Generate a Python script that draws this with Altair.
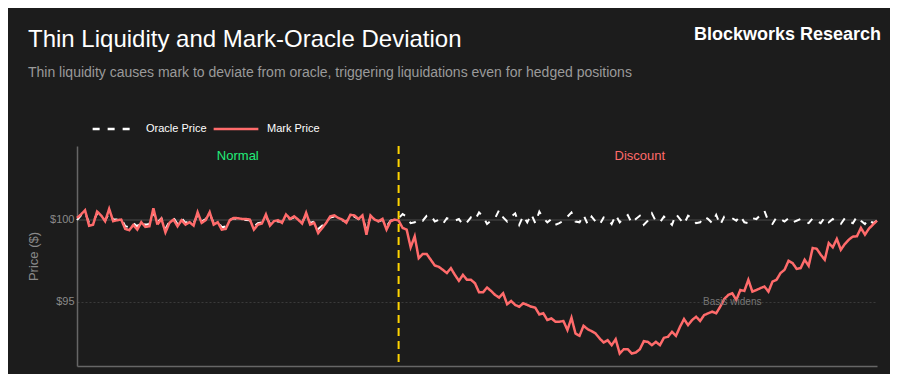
import altair as alt
import pandas as pd

series_names = ["Oracle Price", "Mark Price"]
series_colors = ["#ffffff", "#ff6b6b"]

oracle = [
    99.98, 100.28, 100.45, 99.82, 99.86, 100.38, 100.18, 99.96, 100.42, 100.02,
    100.04, 100.08, 99.62, 99.55, 99.80, 99.60, 99.92, 99.70, 99.75, 100.45,
    99.85, 100.10, 99.45, 99.90, 100.12, 99.75, 100.10, 99.82, 99.95, 99.80,
    100.30, 99.90, 100.05, 100.35, 99.82, 99.92, 99.55, 99.60, 100.00, 100.10,
    100.05, 100.02, 100.00, 99.98, 99.60, 99.80, 99.85, 100.20, 99.78, 99.95,
    99.90, 99.88, 100.22, 100.05, 100.15, 99.98, 99.85, 100.30, 99.82, 99.90,
    99.45, 99.65, 99.90, 100.15, 100.20, 100.08, 99.98, 99.88, 100.25, 100.20,
    100.05, 100.15, 99.40, 100.18, 99.98, 99.90, 100.00, 99.60, 99.95, 100.00,
    100.10, 100.35, 100.20, 99.80, 99.85, 100.05, 99.95, 100.25, 100.30, 99.90,
    100.00, 99.75, 100.10, 100.02, 99.95, 100.05, 99.70, 99.85, 100.15, 100.00,
    100.45, 100.20, 99.75, 99.95, 100.10, 100.60, 100.15, 99.90, 100.20, 100.40,
    99.70, 100.25, 99.85, 100.35, 99.80, 100.50, 100.10, 99.85, 100.05, 99.70,
    99.80, 99.95, 100.20, 100.45, 99.90, 99.85, 100.30, 99.75, 100.20, 99.90,
    99.70, 100.15, 100.05, 99.75, 100.30, 99.85, 100.10, 100.30, 99.80, 100.05,
    100.25, 99.70, 99.95, 100.40, 99.90, 99.85, 100.20, 99.95, 99.70, 100.35,
    100.05, 99.75, 100.25, 100.10, 99.80, 99.85, 100.20, 100.05, 99.80, 100.30,
    99.70, 100.20, 100.15, 100.10, 99.95, 100.25, 99.85, 99.80, 100.10, 100.05,
    100.30, 100.55, 99.90, 99.75, 100.15, 100.05, 99.90, 100.10, 99.85, 99.95,
    100.05, 99.90, 99.80, 100.10, 99.95, 99.80, 100.15, 99.85, 100.05, 99.90,
    99.75, 100.10, 99.90, 99.80, 100.20, 99.95, 99.75, 100.05, 99.80, 99.95,
]

mark = [
    # normal regime
    100.12, 100.33, 100.59, 99.65, 99.71, 100.51, 100.27, 99.92, 100.67, 99.92,
    99.98, 100.02, 99.45, 99.37, 99.69, 99.41, 99.86, 99.57, 99.61, 100.71,
    99.71, 100.06, 99.24, 99.82, 100.02, 99.61, 99.98, 99.71, 99.86, 99.65,
    100.47, 99.82, 99.98, 100.47, 99.71, 99.86, 99.41, 99.45, 99.98, 100.12,
    100.10, 100.06, 100.06, 100.02, 99.41, 99.71, 99.78, 100.33, 99.65, 99.92,
    99.98, 99.82, 100.33, 100.06, 100.22, 100.02, 99.78, 100.43, 99.71, 99.82,
    99.20, 99.51, 99.82, 100.22, 100.27, 100.12, 100.02, 99.82, 100.31, 100.27,
    100.06, 100.27, 99.10, 100.27, 100.02, 99.92, 100.06, 99.41, 99.92, 100.02,
    # discount regime
    99.96, 99.51, 99.41, 98.33, 99.00, 97.67, 97.92, 97.92, 97.57, 97.22,
    97.14, 96.96, 96.76, 97.06, 96.65, 96.29, 96.65, 96.35, 96.35, 96.14,
    95.59, 95.59, 95.88, 95.67, 95.43, 95.27, 95.53, 94.86, 95.06, 94.82,
    94.71, 94.92, 94.82, 94.71, 94.65, 94.24, 94.31, 93.90, 94.00, 93.80,
    93.80, 93.84, 93.29, 94.04, 93.08, 92.94, 93.55, 93.35, 93.22, 93.08,
    92.78, 92.53, 92.67, 92.37, 92.73, 91.86, 92.12, 92.12, 91.86, 91.92,
    92.12,
    92.61, 92.57, 92.37, 92.57, 92.37, 92.82, 92.88, 93.18, 92.94, 93.49,
    93.96, 93.59, 93.90, 94.10, 93.84, 94.20, 94.31, 94.41, 94.31, 94.71,
    95.18, 95.43, 95.53, 95.12, 95.73, 95.67, 96.35, 95.63, 95.73, 95.84,
    95.94, 95.63, 96.24, 96.35, 96.76, 96.96, 97.51, 97.37, 97.02, 97.06,
    97.57, 97.20, 98.29, 98.24, 97.88, 97.57, 98.59, 98.33, 98.84, 98.18,
    98.53, 98.80, 98.98, 99.00, 99.51, 99.10, 99.47, 99.71, 99.96,
]

regime_labels = ["Normal", "Discount"]
regime_label_x = [40, 140]
regime_label_colors = ["#22ee7a", "#ff6b6b"]
shift_index = [80]
annotation_text = ["Basis widens"]
annotation_x = [163]
annotation_y = [95]
y_ticks = [95, 100]
reference_price = [100]

FONT = "Liberation Sans"
BG = "#1c1c1c"

df = pd.DataFrame({
    "t": list(range(len(oracle))) + list(range(len(mark))),
    "price": oracle + mark,
    "series": [series_names[0]] * len(oracle) + [series_names[1]] * len(mark),
})

x_scale = alt.Scale(domain=[0, len(mark) - 1], nice=False, zero=False)
y_scale = alt.Scale(domain=[91.1, 104.5], nice=False, zero=False)

legend = alt.Legend(
    title=None, orient="none", legendX=14, legendY=-41, direction="horizontal",
    symbolType="stroke", symbolSize=2000, symbolStrokeWidth=2.5,
    labelColor="#ffffff", labelFontSize=11, labelFont=FONT,
    columnPadding=1, labelOffset=7,
)

x_enc = alt.X("t:Q", scale=x_scale, axis=alt.Axis(
    title=None, labels=False, ticks=False, grid=False, domain=True,
    domainColor="#666666", domainWidth=1.5))
y_enc = alt.Y("price:Q", scale=y_scale, axis=alt.Axis(
    values=y_ticks, format="$d", title="Price ($)", titleColor="#8a8a8a",
    titleFont=FONT, titleFontSize=13, titleFontWeight="normal", titlePadding=9,
    labelColor="#8a8a8a", labelFont=FONT, labelFontSize=11, labelPadding=3,
    ticks=False, domainColor="#666666", domainWidth=1.5,
    grid=True, gridColor="#3a3a3a", gridDash=[2, 2], gridWidth=1))

color_enc = alt.Color("series:N", scale=alt.Scale(domain=series_names, range=series_colors), legend=legend)
dash_enc = alt.StrokeDash("series:N", scale=alt.Scale(domain=series_names, range=[[7, 8], [1, 0]]), legend=legend)

base = alt.Chart(df)

ref_rule = alt.Chart(pd.DataFrame({"p": reference_price})).mark_rule(
    color="#333333", strokeWidth=2).encode(y=alt.Y("p:Q", scale=y_scale))

oracle_line = base.transform_filter(alt.datum.series == series_names[0]).mark_line(
    strokeWidth=2).encode(x=x_enc, y=y_enc, color=color_enc, strokeDash=dash_enc)

mark_line = base.transform_filter(alt.datum.series == series_names[1]).mark_line(
    strokeWidth=2.5).encode(x=x_enc, y=y_enc, color=color_enc, strokeDash=dash_enc)

shift_rule = alt.Chart(pd.DataFrame({"t": shift_index})).mark_rule(
    color="#ffd400", strokeWidth=2, strokeDash=[8, 5]).encode(x=alt.X("t:Q", scale=x_scale))

regime_text = alt.Chart(pd.DataFrame({
    "t": regime_label_x, "label": regime_labels, "c": regime_label_colors
})).mark_text(font=FONT, fontSize=13, baseline="middle", align="center").encode(
    x=alt.X("t:Q", scale=x_scale), y=alt.value(10), text="label:N",
    color=alt.Color("c:N", scale=None))

annot = alt.Chart(pd.DataFrame({
    "t": annotation_x, "p": annotation_y, "label": annotation_text
})).mark_text(font=FONT, fontSize=10, color="#777777", baseline="middle", align="center").encode(
    x=alt.X("t:Q", scale=x_scale), y=alt.Y("p:Q", scale=y_scale), text="label:N")

title_df = pd.DataFrame({"label": ["Thin Liquidity and Mark-Oracle Deviation"]})
title_text = alt.Chart(title_df).mark_text(
    font=FONT, fontSize=24, color="#ffffff", align="left", baseline="alphabetic").encode(
    x=alt.value(-49), y=alt.value(-99), text="label:N")

subtitle_df = pd.DataFrame({"label": ["Thin liquidity causes mark to deviate from oracle, triggering liquidations even for hedged positions"]})
subtitle_text = alt.Chart(subtitle_df).mark_text(
    font=FONT, fontSize=14, color="#9a9a9a", align="left", baseline="alphabetic").encode(
    x=alt.value(-49), y=alt.value(-69), text="label:N")

brand_df = pd.DataFrame({"label": ["Blockworks Research"]})
brand_text = alt.Chart(brand_df).mark_text(
    font=FONT, fontSize=18, fontWeight="bold", color="#ffffff", align="right", baseline="alphabetic").encode(
    x=alt.value(804), y=alt.value(-106), text="label:N")

chart = alt.layer(
    ref_rule, oracle_line, mark_line, shift_rule, regime_text, annot,
    title_text, subtitle_text, brand_text,
).properties(
    width=800, height=220,
    autosize=alt.AutoSizeParams(type="none"),
    padding={"left": 69, "top": 138, "right": 13, "bottom": 8},
    background=BG,
).configure_view(stroke=None, fill=BG)

chart.save("out.html", embed_options={"renderer": "svg", "actions": False})
